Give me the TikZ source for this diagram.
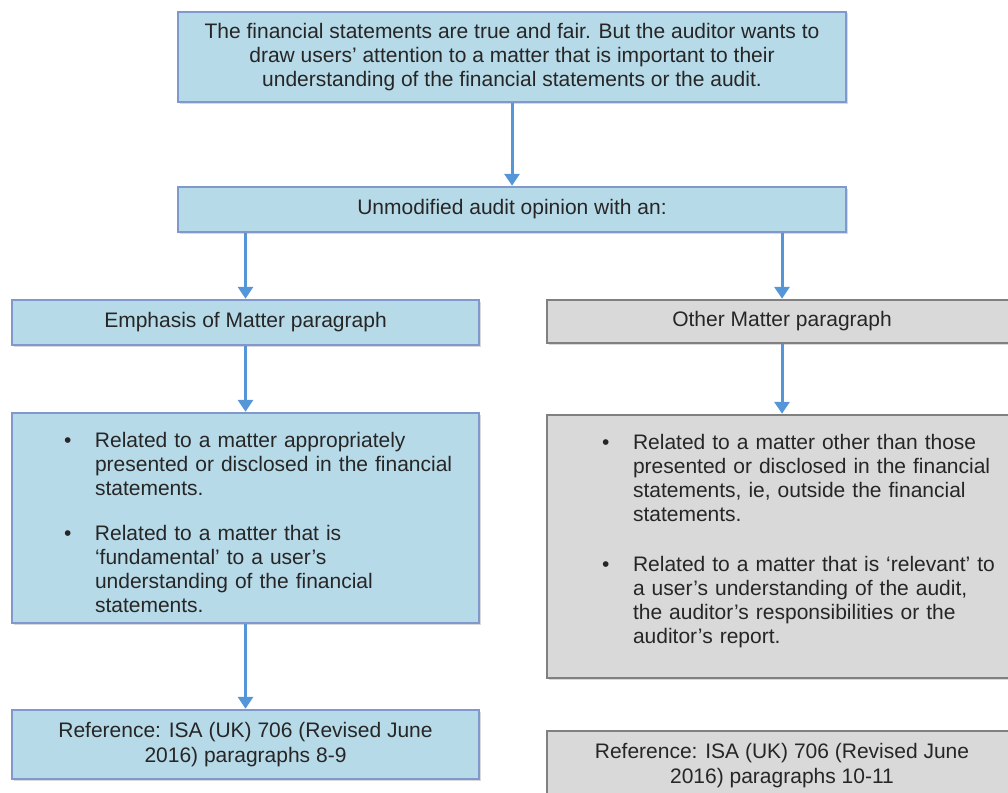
\documentclass[tikz,border=0pt]{standalone}
\usepackage{fontspec}
\setmainfont{Liberation Sans}
\usetikzlibrary{arrows.meta,shadows}
\definecolor{boxblue}{RGB}{183,218,232}
\definecolor{lineblue}{RGB}{128,152,204}
\definecolor{boxgrey}{RGB}{217,217,217}
\definecolor{linegrey}{RGB}{128,128,128}
\definecolor{arrowblue}{RGB}{84,150,216}
\newcommand{\blt}{\par\hangindent=31pt\hangafter=1\noindent\makebox[31pt][l]{\textbullet}}

\begin{document}
\begin{tikzpicture}[
  x=1pt, y=-1pt,
  font=\fontsize{21}{24.2}\selectfont,
  every node/.style={inner sep=0pt, align=center, text=black!85},
  bluebox/.style={draw=lineblue, fill=boxblue, line width=2.5pt,
    drop shadow={shadow xshift=1.5pt, shadow yshift=-1.5pt, opacity=.3}},
  greybox/.style={draw=linegrey, fill=boxgrey, line width=2.5pt,
    drop shadow={shadow xshift=1.5pt, shadow yshift=-1.5pt, opacity=.3}},
  arr/.style={draw=arrowblue, line width=3pt, -{Triangle[width=15pt,length=12pt]}}]
\clip (0,0) rectangle (1008,792);

\node[bluebox, minimum width=668pt, minimum height=90pt] (0) at (512,57)
  {The financial statements are true and fair. But the auditor wants to\\
   draw users’ attention to a matter that is important to their\\
   understanding of the financial statements or the audit.};
\node[bluebox, minimum width=668pt, minimum height=45pt] (1) at (512,209.5)
  {Unmodified audit opinion with an:};

\node[bluebox, minimum width=467pt, minimum height=45pt] (2l) at (245.5,322.5)
  {Emphasis of Matter paragraph};
\node[greybox, minimum width=470pt, minimum height=43pt] (2r) at (782,321.5)
  {Other Matter paragraph};

\node[bluebox, text width=467pt, align=left, minimum height=210pt] (3l) at (245.5,518)
  {\leftskip=52pt
   \blt Related to a matter appropriately\newline
   presented or disclosed in the financial\newline
   statements.
   \par\vspace{20pt}
   \blt Related to a matter that is\newline
   ‘fundamental’ to a user’s\newline
   understanding of the financial\newline
   statements.\par};
\node[greybox, text width=470pt, align=left, minimum height=263pt] (3r) at (782,546.5)
  {\leftskip=55pt
   \blt Related to a matter other than those\newline
   presented or disclosed in the financial\newline
   statements, ie, outside the financial\newline
   statements.
   \par\vspace{25pt}
   \blt Related to a matter that is ‘relevant’ to\newline
   a user’s understanding of the audit,\newline
   the auditor’s responsibilities or the\newline
   auditor’s report.
   \par\kern20pt};

\node[bluebox, minimum width=467pt, minimum height=69pt] (4l) at (245.5,744.5)
  {Reference: ISA (UK) 706 (Revised June\\ 2016) paragraphs 8-9};
\node[greybox, minimum width=470pt, minimum height=69pt] (4r) at (782,765.5)
  {Reference: ISA (UK) 706 (Revised June\\ 2016) paragraphs 10-11};

\draw[arr] (0) -- (1);
\draw[arr] (1.south -| 2l) -- (2l);
\draw[arr] (1.south -| 2r) -- (2r);
\draw[arr] (2l) -- (3l);
\draw[arr] (2r) -- (3r);
\draw[arr] (3l) -- (4l);
\end{tikzpicture}
\end{document}
